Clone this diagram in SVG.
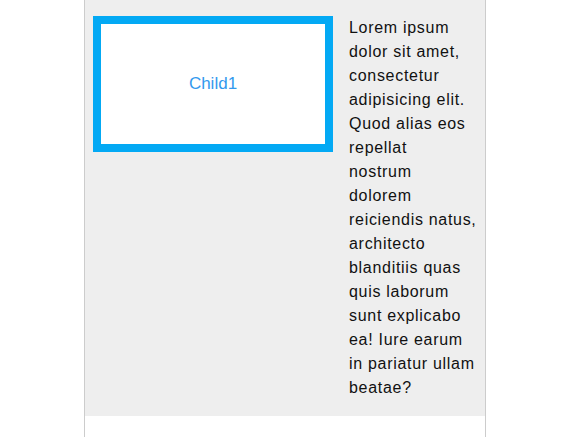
<svg xmlns="http://www.w3.org/2000/svg" width="570" height="437" viewBox="0 0 570 437">
<style>
.body{font-family:"Liberation Sans",Arial,sans-serif;font-size:16px;letter-spacing:0.7px;fill:#111}
.label{font-family:"Liberation Sans",Arial,sans-serif;font-size:17px;fill:#3399ee}
</style>
<rect x="0" y="0" width="570" height="437" fill="#ffffff"/>
<rect x="85" y="0" width="400" height="416" fill="#eeeeee"/>
<line x1="84.5" y1="0" x2="84.5" y2="437" stroke="#cccccc" stroke-width="1"/>
<line x1="485.5" y1="0" x2="485.5" y2="437" stroke="#cccccc" stroke-width="1"/>
<g id="child1">
<rect x="97" y="20" width="232" height="128" fill="#ffffff" stroke="#03a9f4" stroke-width="8"/>
<text class="label" x="213" y="89" text-anchor="middle">Child1</text>
</g>
<g id="paragraph">
<text class="body" x="349" y="33">Lorem ipsum</text>
<text class="body" x="349" y="57">dolor sit amet,</text>
<text class="body" x="349" y="81">consectetur</text>
<text class="body" x="349" y="105">adipisicing elit.</text>
<text class="body" x="349" y="129">Quod alias eos</text>
<text class="body" x="349" y="153">repellat</text>
<text class="body" x="349" y="177">nostrum</text>
<text class="body" x="349" y="201">dolorem</text>
<text class="body" x="349" y="225">reiciendis natus,</text>
<text class="body" x="349" y="249">architecto</text>
<text class="body" x="349" y="273">blanditiis quas</text>
<text class="body" x="349" y="297">quis laborum</text>
<text class="body" x="349" y="321">sunt explicabo</text>
<text class="body" x="349" y="345">ea! Iure earum</text>
<text class="body" x="349" y="369">in pariatur ullam</text>
<text class="body" x="349" y="393">beatae?</text>
</g>
</svg>
